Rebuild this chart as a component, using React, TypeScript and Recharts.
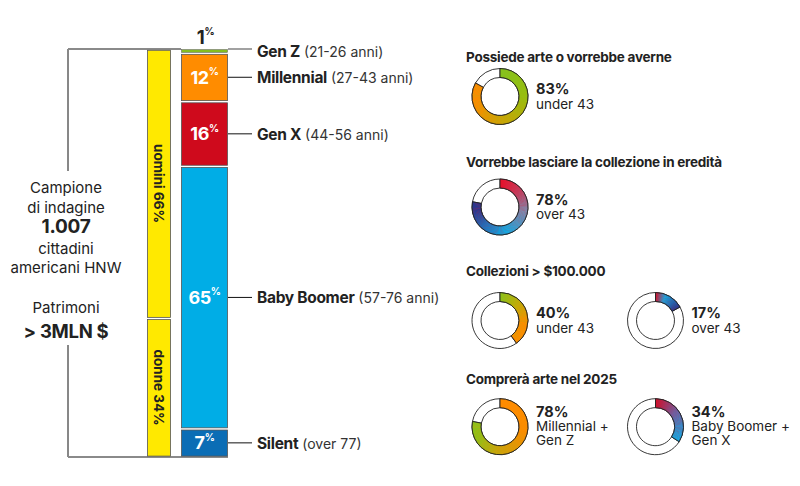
import React from 'react';
import { BarChart, Bar, XAxis, YAxis, PieChart, Pie, Sector, Cell } from 'recharts';

// ---------- data ----------
const generations = ['Gen Z', 'Millennial', 'Gen X', 'Baby Boomer', 'Silent'];
const ageRanges = ['(21-26 anni)', '(27-43 anni)', '(44-56 anni)', '(57-76 anni)', '(over 77)'];
const genShares = [1, 12, 16, 65, 7];

const genders = ['uomini', 'donne'];
const genderShares = [66, 34];

const sampleLines = ['Campione', 'di indagine', '1.007', 'cittadini', 'americani HNW'];
const wealthLines = ['Patrimoni', '> 3MLN $'];

const donutTitles = [
  'Possiede arte o vorrebbe averne',
  'Vorrebbe lasciare la collezione in eredità',
  'Collezioni > $100.000',
  'Comprerà arte nel 2025',
];
const donutValues = [83, 78, 40, 17, 78, 34];
const donutCaptions = [
  ['under 43'],
  ['over 43'],
  ['under 43'],
  ['over 43'],
  ['Millennial +', 'Gen Z'],
  ['Baby Boomer +', 'Gen X'],
];

// ---------- styles / layout ----------
const FONT = 'Inter, "Noto Sans", sans-serif';
const INK = '#222';
const genColors = ['#84bd21', '#ff8c00', '#cf0a1c', '#00ade6', '#0b6db5'];
const YELLOW = '#ffe900';
const PLOT_TOP = 49;
const PLOT_BOTTOM = 457;
const H = 486;
const LEFT_W = 460;
const BRACKET_X = 68;

// donut placement (row / column), gradient stops (deg clockwise from top)
const donutRow = [0, 1, 2, 2, 3, 3];
const donutCol = [0, 0, 0, 1, 0, 1];
const rowCenters = [96.5, 207, 320.5, 426.7];
const rowTitles = [56.7, 161.7, 271, 379];
const colCenters = [40, 195.5];
const donutStops: [number, string][][] = [
  [[0, '#86c21f'], [90, '#9abd10'], [180, '#d2a104'], [255, '#ff8a00'], [300, '#ff8a00']],
  [[0, '#e8102a'], [50, '#c2405f'], [100, '#7e8aae'], [165, '#12ade6'], [215, '#1d78c2'], [262, '#2b3990'], [282, '#2b3990']],
  [[0, '#8cc21a'], [45, '#c2ab0a'], [95, '#ff8c00'], [145, '#ff8c00']],
  [[0, '#d4122a'], [22, '#18a9e3'], [62, '#27358c']],
  [[0, '#ff8c00'], [100, '#f98d02'], [180, '#c8a40c'], [245, '#8cc21a'], [282, '#8cc21a']],
  [[0, '#d0102a'], [55, '#6a64a8'], [123, '#0fb0ea']],
];

const hex = (c: string) => [1, 3, 5].map((k) => parseInt(c.slice(k, k + 2), 16));
const colorAt = (stops: [number, string][], a: number) => {
  if (a <= stops[0][0]) return stops[0][1];
  for (let k = 1; k < stops.length; k++) {
    if (a <= stops[k][0]) {
      const [a0, c0] = stops[k - 1];
      const [a1, c1] = stops[k];
      const t = (a - a0) / (a1 - a0 || 1);
      const p = hex(c0);
      const q = hex(c1);
      return `rgb(${p.map((v, j) => Math.round(v + (q[j] - v) * t)).join(',')})`;
    }
  }
  return stops[stops.length - 1][1];
};

// ---------- chart data ----------
const barRow: Record<string, any> = { name: 'campione' };
generations.forEach((g, i) => (barRow[g] = genShares[i]));
const genderRow: Record<string, any> = { name: 'campione' };
genders.forEach((g, i) => (genderRow[g] = genderShares[i]));

// ---------- renderers ----------
const segmentShape = (top: number, bottom: number, sw: number) => (props: any) => {
  const { x, y, width, height, fill } = props;
  return (
    <rect
      x={x + 0.5}
      y={y + top}
      width={width - 1}
      height={Math.max(0.5, height - top - bottom)}
      fill={fill}
      stroke="#555"
      strokeWidth={sw}
    />
  );
};
const normalShape = segmentShape(1.3, 0.9, 0.8);
const thinShape = segmentShape(0.6, 0.6, 0.5);

const segmentLabel = (i: number) => (props: any) => {
  const vb = props.viewBox && props.viewBox.width != null ? props.viewBox : props;
  const { x, y, width, height } = vb;
  const cy = y + height / 2;
  const right = x + width;
  const pct = (
    <>
      {genShares[i]}
      <tspan fontSize={10} dy={-6}>%</tspan>
    </>
  );
  return (
    <g>
      {i === 0 ? (
        <text x={x + width / 2 + 1} y={y - 12} textAnchor="middle" dominantBaseline="central" fill={INK}
          fontFamily={FONT} fontWeight={700} fontSize={18.5} letterSpacing={-0.4}>{pct}</text>
      ) : (
        <text x={x + width / 2} y={cy} textAnchor="middle" dominantBaseline="central" fill="#fff"
          fontFamily={FONT} fontWeight={700} fontSize={18} letterSpacing={-0.4}>{pct}</text>
      )}
      {i === 0 ? (
        <line x1={right} x2={right + 24} y1={y} y2={y} stroke="#8a8a8a" strokeWidth={1.6} />
      ) : (
        <line x1={right} x2={right + 24} y1={cy} y2={cy} stroke="#111" strokeWidth={1} />
      )}
      <text x={right + 29} y={i === 0 ? cy - 0.5 : cy} dominantBaseline="central" fontFamily={FONT} fill={INK}>
        <tspan fontWeight={700} fontSize={15.5} letterSpacing={-0.3}>{generations[i]}</tspan>
        <tspan fontSize={14} fill="#333">{' ' + ageRanges[i]}</tspan>
      </text>
    </g>
  );
};

const genderLabel = (i: number) => (props: any) => {
  const vb = props.viewBox && props.viewBox.width != null ? props.viewBox : props;
  const { x, y, width, height } = vb;
  const cx = x + width / 2;
  const cy = y + height / 2;
  return (
    <text x={cx} y={cy} transform={`rotate(90 ${cx} ${cy})`} textAnchor="middle" dominantBaseline="central"
      fontFamily={FONT} fontWeight={700} fontSize={13.5} fill={INK}>
      {`${genders[i]} ${genderShares[i]}%`}
    </text>
  );
};

// conic-gradient rendering of the value slice, drawn over the pie through its label hook
const ringOverlay = (d: number) => (props: any) => {
  const { cx, cy, innerRadius, outerRadius, startAngle, endAngle, index } = props;
  const name = props.name ?? (props.payload && props.payload.name);
  if (index !== 0 && name !== 'sì') return <g />;
  const sweep = Math.abs(startAngle - endAngle);
  const step = 2;
  const parts = [];
  for (let a = 0; a < sweep; a += step) {
    const a1 = Math.min(sweep, a + step + 0.6);
    parts.push(
      <Sector key={a} cx={cx} cy={cy} innerRadius={innerRadius} outerRadius={outerRadius}
        startAngle={startAngle - a} endAngle={startAngle - a1}
        fill={colorAt(donutStops[d], a + step / 2)} stroke="none" />
    );
  }
  return (
    <g>
      {parts}
      <Sector cx={cx} cy={cy} innerRadius={innerRadius} outerRadius={outerRadius}
        startAngle={startAngle} endAngle={endAngle} fill="none" stroke={INK} strokeWidth={0.9} />
    </g>
  );
};

// ---------- app ----------
export default function App() {
  const stackOrder = generations.map((g, i) => i).reverse(); // bottom to top
  return (
    <div style={{ position: 'absolute', left: 0, top: 0, width: 800, height: H, background: '#fff', fontFamily: FONT }}>
      {/* gender bar */}
      <div style={{ position: 'absolute', left: 0, top: 0 }}>
        <BarChart width={LEFT_W} height={H} data={[genderRow]} barCategoryGap={0}
          margin={{ top: PLOT_TOP, bottom: H - PLOT_BOTTOM, left: 147, right: LEFT_W - 171 }}>
          <XAxis dataKey="name" type="category" hide />
          <YAxis type="number" domain={[0, 100]} hide />
          {[1, 0].map((i) => (
            <Bar key={genders[i]} dataKey={genders[i]} stackId="g" fill={YELLOW} shape={normalShape}
              label={genderLabel(i)} isAnimationActive={false} />
          ))}
          {/* bracket + sample description */}
          <line x1={BRACKET_X} x2={BRACKET_X} y1={PLOT_TOP} y2={171} stroke="#111" strokeWidth={1} />
          <line x1={BRACKET_X} x2={BRACKET_X} y1={345} y2={PLOT_BOTTOM} stroke="#111" strokeWidth={1} />
          <line x1={BRACKET_X} x2={181} y1={PLOT_TOP} y2={PLOT_TOP} stroke="#8a8a8a" strokeWidth={2} />
          <line x1={BRACKET_X} x2={181} y1={PLOT_BOTTOM} y2={PLOT_BOTTOM} stroke="#8a8a8a" strokeWidth={2} />
          {sampleLines.map((t, k) => (
            <text key={t} x={66} y={[187.3, 207, 226.5, 248, 267.3][k]} textAnchor="middle" dominantBaseline="central"
              fontFamily={FONT} fill={INK} fontWeight={k === 2 ? 700 : 400} fontSize={k === 2 ? 19 : 15}
              letterSpacing={k === 2 ? -0.3 : 0}>{t}</text>
          ))}
          {wealthLines.map((t, k) => (
            <text key={t} x={66} y={[307.5, 330.5][k]} textAnchor="middle" dominantBaseline="central"
              fontFamily={FONT} fill={INK} fontWeight={k === 1 ? 700 : 400} fontSize={k === 1 ? 18.5 : 15}
              letterSpacing={k === 1 ? -0.3 : 0}>{t}</text>
          ))}
        </BarChart>
      </div>
      {/* generations bar */}
      <div style={{ position: 'absolute', left: 0, top: 0 }}>
        <BarChart width={LEFT_W} height={H} data={[barRow]} barCategoryGap={0}
          margin={{ top: PLOT_TOP, bottom: H - PLOT_BOTTOM, left: 181, right: LEFT_W - 228 }}>
          <XAxis dataKey="name" type="category" hide />
          <YAxis type="number" domain={[0, 101]} hide />
          <line x1={181} x2={228} y1={PLOT_BOTTOM} y2={PLOT_BOTTOM} stroke="#8a8a8a" strokeWidth={2} />
          {stackOrder.map((i) => (
            <Bar key={generations[i]} dataKey={generations[i]} stackId="a" fill={genColors[i]}
              shape={i === 0 ? thinShape : normalShape}
              label={segmentLabel(i)} isAnimationActive={false} />
          ))}
        </BarChart>
      </div>
      {/* donuts */}
      <div style={{ position: 'absolute', left: 460, top: 0 }}>
        <PieChart width={340} height={H} margin={{ top: 0, right: 0, bottom: 0, left: 0 }}>
          {donutValues.map((v, d) => {
            const cx = colCenters[donutCol[d]];
            const cy = rowCenters[donutRow[d]];
            return (
              <Pie key={d} data={[{ name: 'sì', value: v }, { name: 'altro', value: 100 - v }]} dataKey="value"
                cx={cx} cy={cy} innerRadius={19} outerRadius={28} startAngle={90} endAngle={-270}
                stroke={INK} strokeWidth={0.9} isAnimationActive={false} label={ringOverlay(d)} labelLine={false}>
                <Cell fill={colorAt(donutStops[d], 0)} />
                <Cell fill="#fff" />
              </Pie>
            );
          })}
          {donutTitles.map((t, r) => (
            <text key={t} x={6} y={rowTitles[r]} dominantBaseline="central" fontFamily={FONT} fontWeight={700}
              fontSize={13.5} letterSpacing={-0.25} fill={INK}>{t}</text>
          ))}
          {donutValues.map((v, d) => {
            const cx = colCenters[donutCol[d]];
            const cy = rowCenters[donutRow[d]];
            const caps = donutCaptions[d];
            const ys = caps.length === 1 ? [cy - 8, cy + 7] : [cy - 15.5, cy - 0.8, cy + 13.5];
            const tx = cx + 36;
            return (
              <g key={'t' + d}>
                <text x={tx} y={ys[0]} dominantBaseline="central" fontFamily={FONT} fontWeight={700}
                  fontSize={14.5} fill={INK}>{`${v}%`}</text>
                {caps.map((c, k) => (
                  <text key={c} x={tx} y={ys[k + 1]} dominantBaseline="central" fontFamily={FONT}
                    fontSize={13.5} fill={INK}>{c}</text>
                ))}
              </g>
            );
          })}
        </PieChart>
      </div>
    </div>
  );
}
